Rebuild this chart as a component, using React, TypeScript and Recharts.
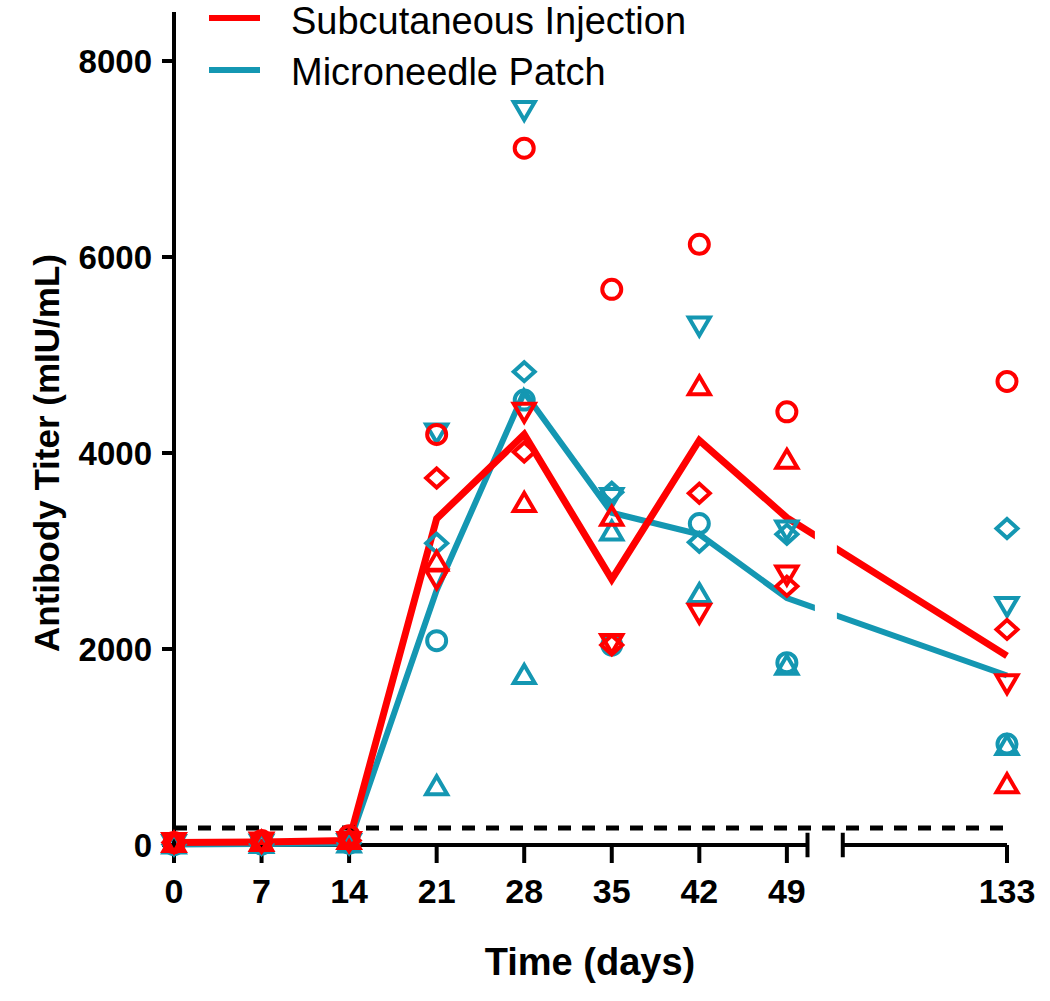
import React from 'react';
import {
  ComposedChart,
  Line,
  Scatter,
  XAxis,
  YAxis,
  ReferenceLine,
  ReferenceArea,
  Legend,
  Label,
} from 'recharts';

// ---- data ----
const dayLabels = ['0', '7', '14', '21', '28', '35', '42', '49', '133'];
// axis position of each day (133 sits after the axis break)
const dayPositions = [0, 7, 14, 21, 28, 35, 42, 49, 66.6];
const yTicks = [0, 2000, 4000, 6000, 8000];
const detectionLimit = 173;
const seriesNames = ['Subcutaneous Injection', 'Microneedle Patch'];

// Subcutaneous injection (red), individual subjects
const scCircle = [25, 45, 95, 4190, 7110, 5670, 6130, 4420, 4730];
const scTriUp = [20, 30, 50, 2890, 3490, 3350, 4680, 3930, 620];
const scTriDown = [30, 35, 40, 2720, 4420, 2060, 2370, 2760, 1650];
const scDiamond = [25, 30, 45, 3745, 4010, 2040, 3590, 2640, 2200];
const scMedian = [25, 30, 45, 3330, 4190, 2710, 4130, 3340, 1930];

// Microneedle patch (teal), individual subjects
const mnCircle = [5, 10, 20, 2085, 4540, 2040, 3280, 1860, 1030];
const mnTriUp = [5, 10, 15, 600, 1735, 3200, 2560, 1830, 1010];
const mnTriDown = [10, 15, 20, 4210, 7500, 3550, 5300, 3220, 2440];
const mnDiamond = [5, 10, 20, 3080, 4830, 3600, 3090, 3170, 3230];
const mnMedian = [5, 10, 15, 2600, 4620, 3390, 3170, 2520, 1730];

// ---- styling ----
const RED = '#FF0000';
const TEAL = '#1497B2';
const FONT = '"Liberation Sans", Arial, Helvetica, sans-serif';

const toPoints = (vals: number[]) => vals.map((v, i) => ({ x: dayPositions[i], y: v }));

type Kind = 'circle' | 'up' | 'down' | 'diamond';
const makeShape = (kind: Kind, color: string) => (props: any) => {
  const { cx, cy } = props;
  if (cx == null || cy == null) return <g />;
  const common = { fill: 'none', stroke: color, strokeWidth: 4, strokeLinejoin: 'miter' as const };
  if (kind === 'circle') return <circle cx={cx} cy={cy} r={9.5} {...common} />;
  if (kind === 'up')
    return <polygon points={`${cx},${cy - 10} ${cx + 10.5},${cy + 8} ${cx - 10.5},${cy + 8}`} {...common} />;
  if (kind === 'down')
    return <polygon points={`${cx},${cy + 10} ${cx + 10.5},${cy - 8} ${cx - 10.5},${cy - 8}`} {...common} />;
  return <polygon points={`${cx},${cy - 9.5} ${cx + 10.5},${cy} ${cx},${cy + 9.5} ${cx - 10.5},${cy}`} {...common} />;
};

const renderLegend = () => (
  <svg width={720} height={100} style={{ display: 'block', overflow: 'visible' }}>
    <line x1={209} x2={260} y1={18} y2={18} stroke={RED} strokeWidth={6} />
    <text x={291} y={34} fontFamily={FONT} fontSize={38} fill="#000">
      {seriesNames[0]}
    </text>
    <line x1={209} x2={260} y1={70} y2={70} stroke={TEAL} strokeWidth={6} />
    <text x={291} y={85} fontFamily={FONT} fontSize={38} fill="#000">
      {seriesNames[1]}
    </text>
  </svg>
);

export default function App() {
  return (
    <div style={{ position: 'absolute', left: 0, top: 0, width: 1050, height: 1001, background: '#fff' }}>
      <ComposedChart width={1050} height={1001} margin={{ top: 12, right: 43, bottom: 0, left: 0 }}>
        <XAxis
          type="number"
          dataKey="x"
          domain={[0, 66.6]}
          ticks={dayPositions}
          interval={0}
          tickFormatter={(v: number) => dayLabels[dayPositions.indexOf(v)] ?? ''}
          axisLine={false}
          tickLine={{ stroke: '#000', strokeWidth: 4 }}
          tickSize={18}
          tickMargin={16}
          height={156}
          tick={{ fill: '#000', fontSize: 34, fontWeight: 700, fontFamily: FONT }}
        >
          <Label
            content={() => (
              <text x={590} y={975} textAnchor="middle" fontFamily={FONT} fontSize={38} fontWeight={700} fill="#000">
                Time (days)
              </text>
            )}
          />
        </XAxis>
        <YAxis
          type="number"
          domain={[0, 8500]}
          ticks={yTicks}
          interval={0}
          width={174}
          axisLine={{ stroke: '#000', strokeWidth: 4 }}
          tickLine={{ stroke: '#000', strokeWidth: 4 }}
          tickSize={12}
          tickMargin={10}
          tick={{ fill: '#000', fontSize: 33, fontWeight: 700, fontFamily: FONT }}
        >
          <Label
            content={() => (
              <text
                x={46}
                y={453}
                transform="rotate(-90 46 453)"
                textAnchor="middle"
                dominantBaseline="central"
                fontFamily={FONT}
                fontSize={35}
                fontWeight={700}
                fill="#000"
              >
                Antibody Titer (mIU/mL)
              </text>
            )}
          />
        </YAxis>

        <Legend
          layout="vertical"
          align="center"
          verticalAlign="middle"
          wrapperStyle={{ left: 0, top: 0, width: 720, height: 100 }}
          content={renderLegend}
        />

        {/* broken x axis */}
        <ReferenceLine segment={[{ x: 0, y: 0 }, { x: 50.65, y: 0 }]} stroke="#000" strokeWidth={4} ifOverflow="visible" />
        <ReferenceLine segment={[{ x: 53.47, y: 0 }, { x: 66.6, y: 0 }]} stroke="#000" strokeWidth={4} ifOverflow="visible" />
        <ReferenceLine segment={[{ x: 50.65, y: -125 }, { x: 50.65, y: 125 }]} stroke="#000" strokeWidth={4} ifOverflow="visible" />
        <ReferenceLine segment={[{ x: 53.47, y: -125 }, { x: 53.47, y: 125 }]} stroke="#000" strokeWidth={4} ifOverflow="visible" />

        <Line data={toPoints(mnMedian)} dataKey="y" type="linear" stroke={TEAL} strokeWidth={6} dot={false} activeDot={false} isAnimationActive={false} />
        <Line data={toPoints(scMedian)} dataKey="y" type="linear" stroke={RED} strokeWidth={7} dot={false} activeDot={false} isAnimationActive={false} />

        {/* gap in lines at the axis break */}
        <ReferenceArea x1={51.24} x2={53.0} y1={400} y2={8500} fill="#fff" fillOpacity={1} stroke="none" ifOverflow="visible" zIndex={450} />

        <ReferenceLine
          segment={[{ x: 0, y: detectionLimit }, { x: 66.6, y: detectionLimit }]}
          stroke="#000"
          strokeWidth={5}
          strokeDasharray="13 11"
          ifOverflow="visible"
          zIndex={460}
        />

        <Scatter data={toPoints(mnCircle)} dataKey="y" shape={makeShape('circle', TEAL)} isAnimationActive={false} />
        <Scatter data={toPoints(mnTriUp)} dataKey="y" shape={makeShape('up', TEAL)} isAnimationActive={false} />
        <Scatter data={toPoints(mnTriDown)} dataKey="y" shape={makeShape('down', TEAL)} isAnimationActive={false} />
        <Scatter data={toPoints(mnDiamond)} dataKey="y" shape={makeShape('diamond', TEAL)} isAnimationActive={false} />
        <Scatter data={toPoints(scCircle)} dataKey="y" shape={makeShape('circle', RED)} isAnimationActive={false} />
        <Scatter data={toPoints(scTriUp)} dataKey="y" shape={makeShape('up', RED)} isAnimationActive={false} />
        <Scatter data={toPoints(scTriDown)} dataKey="y" shape={makeShape('down', RED)} isAnimationActive={false} />
        <Scatter data={toPoints(scDiamond)} dataKey="y" shape={makeShape('diamond', RED)} isAnimationActive={false} />
      </ComposedChart>
    </div>
  );
}
